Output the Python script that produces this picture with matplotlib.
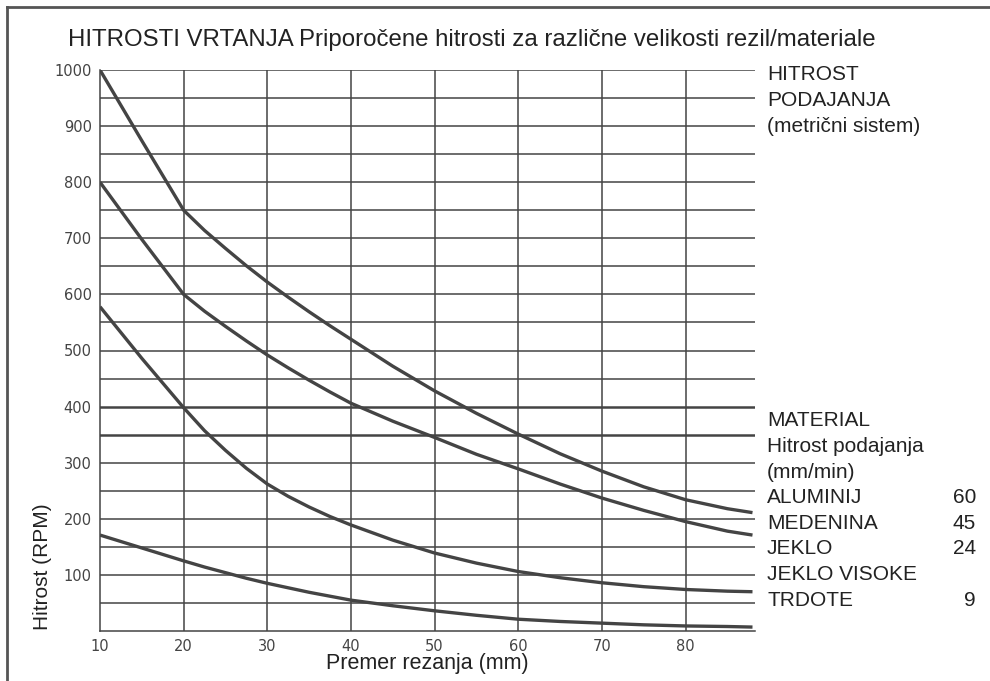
"""
Hitrosti vrtanja - recommended drill speeds chart
"""

import matplotlib
matplotlib.use("Agg")
import matplotlib.pyplot as plt
from matplotlib.lines import Line2D

# data
diameter = [10, 15, 20, 22.5, 25, 27.5, 30, 32.5, 35, 37.5, 40, 45, 50, 55, 60, 65, 70, 75, 80, 85, 88]
aluminij = [1000, 874, 750, 714, 682, 651, 622, 595, 569, 544, 520, 472, 428, 388, 351, 316, 285, 257, 234, 218, 211]
medenina = [800, 698, 600, 570, 543, 517, 492, 469, 447, 426, 406, 374, 345, 315, 289, 262, 237, 215, 195, 178, 171]
jeklo = [578, 486, 398, 357, 322, 290, 262, 240, 221, 204, 189, 162, 139, 121, 106, 95, 86, 79, 74, 71, 70]
jeklo_trdo = [171, 148, 125, 114, 104, 94, 85, 77, 69, 62, 55, 45, 36, 28, 21, 17, 14, 11, 9, 8, 7]

x_ticks = [10, 20, 30, 40, 50, 60, 70, 80]
y_ticks = [100, 200, 300, 400, 500, 600, 700, 800, 900, 1000]

header_lines = ["HITROST", "PODAJANJA", "(metrični sistem)"]
legend_lines = ["MATERIAL", "Hitrost podajanja", "(mm/min)",
                "ALUMINIJ", "MEDENINA", "JEKLO", "JEKLO VISOKE", "TRDOTE"]
feed_rates = {"ALUMINIJ": "60", "MEDENINA": "45", "JEKLO": "24", "TRDOTE": "9"}

title = "HITROSTI VRTANJA Priporočene hitrosti za različne velikosti rezil/materiale"

ink = "#444444"
txt = "#222222"
plt.rcParams["font.family"] = ["Liberation Sans", "DejaVu Sans"]

W, H = 990, 681
fig = plt.figure(figsize=(W / 100, H / 100), dpi=100)
ax = fig.add_axes([100 / W, (H - 631) / H, (755 - 100) / W, (631 - 70) / H])

# grid: horizontal every 50, vertical every 10
for y in range(50, 1001, 50):
    lw = 1.8 if y in (350, 400) else 1.1
    ax.axhline(y, color=ink, lw=lw, zorder=1)
for x in x_ticks[1:]:
    ax.axvline(x, color=ink, lw=1.1, zorder=1)

for series in (aluminij, medenina, jeklo, jeklo_trdo):
    ax.plot(diameter, series, color=ink, lw=2.4, solid_joinstyle="round",
            solid_capstyle="butt", zorder=3)

ax.set_xlim(10, 88.3)
ax.set_ylim(0, 1000)
for side in ("top", "right"):
    ax.spines[side].set_visible(False)
for side in ("left", "bottom"):
    ax.spines[side].set_color(ink)
    ax.spines[side].set_linewidth(1.1)

tick_font = ["Liberation Sans Narrow", "DejaVu Sans"]
ax.set_xticks(x_ticks)
ax.set_xticklabels([str(t) for t in x_ticks], family=tick_font, fontsize=10.5, color=ink)
ax.set_yticks(y_ticks)
ax.set_yticklabels([str(t) for t in y_ticks], family=tick_font, fontsize=10.5, color=ink)
ax.tick_params(length=0, pad=6)

fig.text(68 / W, 1 - 40 / H, title, fontsize=17.3, color=txt, va="center", ha="left")
fig.text(427 / W, 1 - 663 / H, "Premer rezanja (mm)", fontsize=15.5, color=txt,
         ha="center", va="center")
fig.text(43 / W, 1 - 567 / H, "Hitrost (RPM)", fontsize=15, color=txt,
         rotation=90, ha="center", va="center")

# right-hand text block
for i, line in enumerate(header_lines):
    fig.text(767 / W, 1 - (74 + i * 26.5) / H, line, fontsize=15, color=txt,
             ha="left", va="center")
for i, line in enumerate(legend_lines):
    yy = 1 - (421 + i * 25.6) / H
    fig.text(767 / W, yy, line, fontsize=15, color=txt, ha="left", va="center")
    if line in feed_rates:
        fig.text(976 / W, yy, feed_rates[line], fontsize=15, color=txt,
                 ha="right", va="center")

# partial frame around the figure (left and top edges)
fig.add_artist(Line2D([7 / W, 7 / W], [0, 1 - 7 / H], color="#555555", lw=2))
fig.add_artist(Line2D([7 / W, 1], [1 - 7 / H, 1 - 7 / H], color="#555555", lw=2))

fig.savefig("out.png", dpi=100, facecolor="white")
